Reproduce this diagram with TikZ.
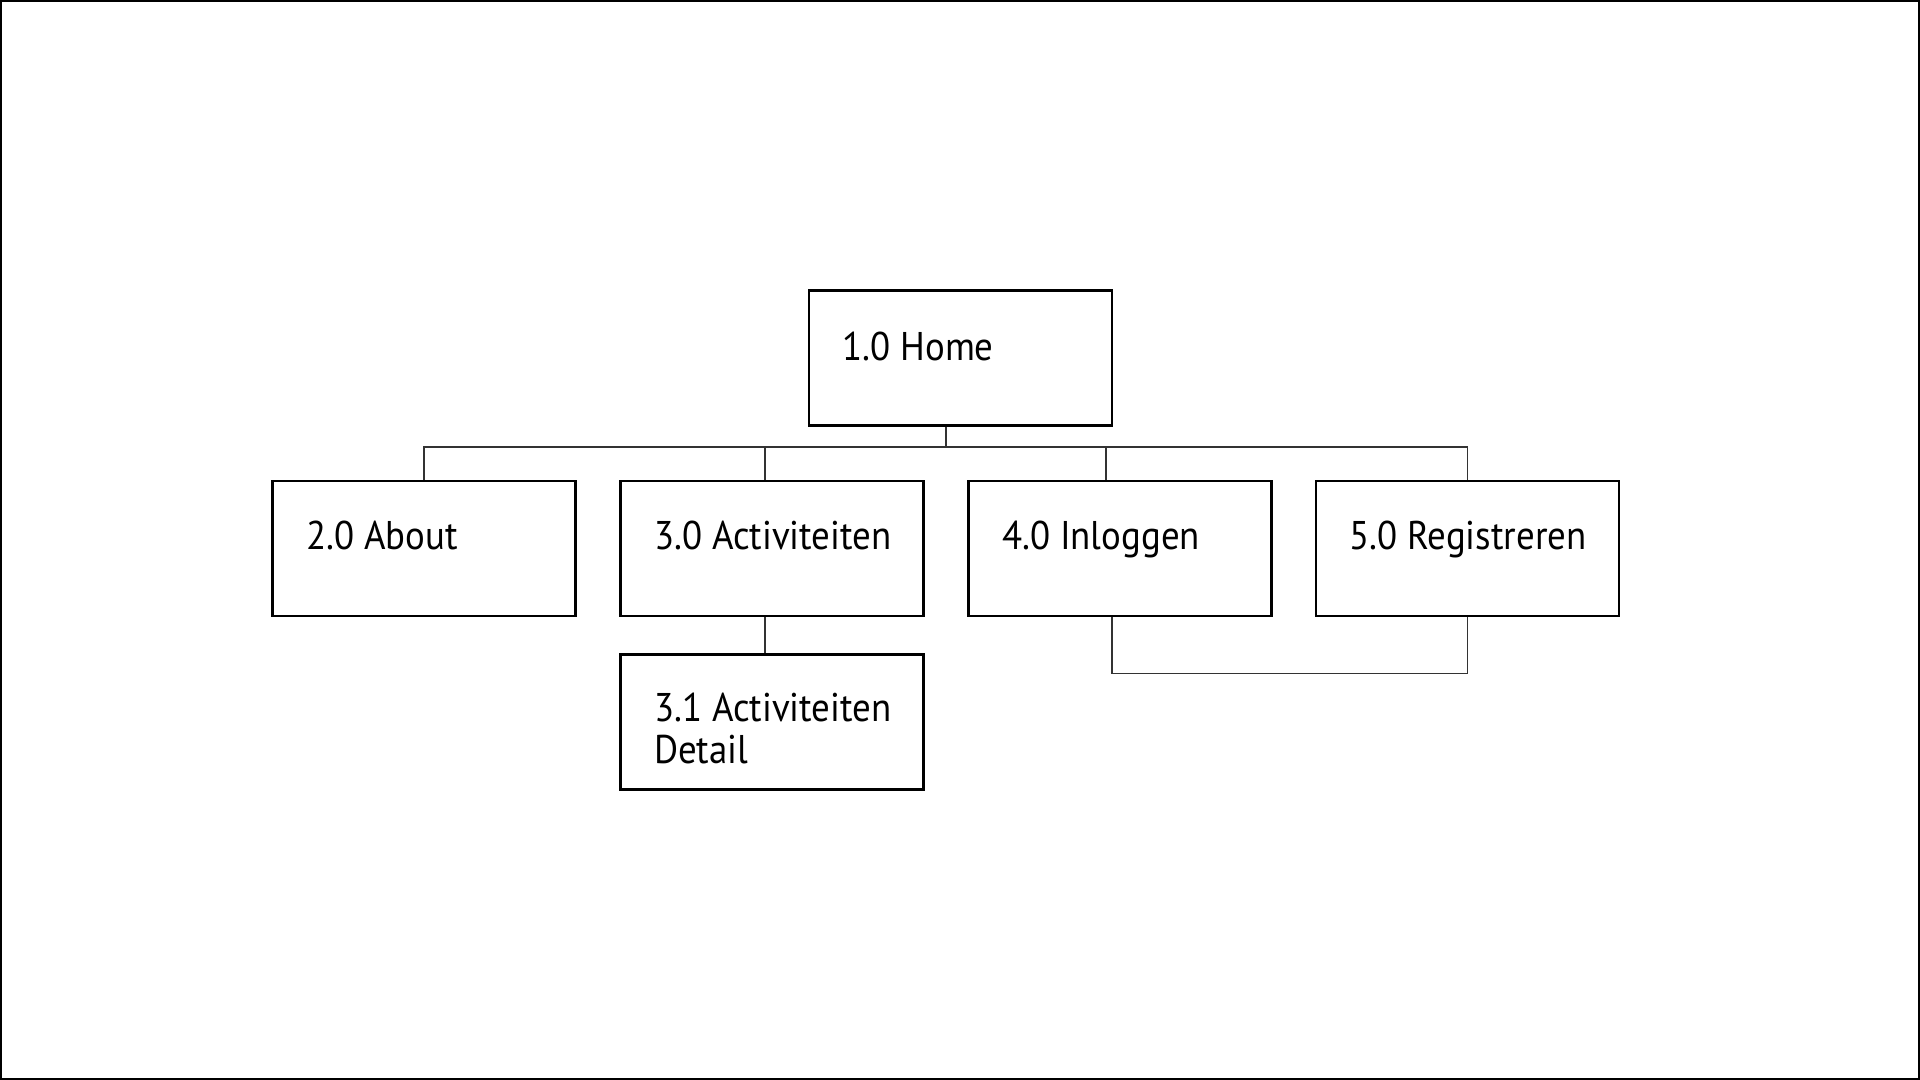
\documentclass[tikz,border=0pt]{standalone}
\usepackage{fontspec}
\setmainfont[FakeStretch=0.92]{PT Sans}
\usetikzlibrary{positioning, calc}

\tikzset{
  pagebox/.style={draw, line width=0.62pt, minimum width=3.03cm, minimum height=1.35cm, inner sep=0pt},
  pagetext/.style={anchor=base west, inner sep=0pt, align=left, font=\fontsize{11.4pt}{11.95pt}\selectfont},
  link/.style={line width=0.3pt, draw=black!80}
}

\begin{document}
\begin{tikzpicture}
        \useasboundingbox (0,0) rectangle (19.2,10.8);
        \draw[line width=0.7pt] (0.01,0.01) rectangle (19.19,10.79);

        % Top page
        \node[pagebox] (home) at (9.605,7.22) {};
        \node[pagetext] (home-t) at ($(home.north west)+(0.34,-0.71)$) {1.0 Home};

        % Second level
        \foreach \name/\x/\txt in {about/4.24/2.0 About, activ/7.72/3.0 Activiteiten, inlog/11.20/4.0 Inloggen, regis/14.675/5.0 Registreren} {
            \node[pagebox] (\name) at (\x,5.315) {};
            \node[pagetext] (\name-t) at ($(\name.north west)+(0.34,-0.70)$) {\txt};
        }

        % Third level (base is the last line)
        \node[pagebox] (detail) at (7.72,3.58) {};
        \node[pagetext] (detail-t) at ($(detail.north west)+(0.34,-1.10)$) {3.1 Activiteiten\\Detail};

        % Connectors
        \coordinate (bus) at (4.24,6.33);
        \draw[link] ([xshift=-1.45mm]home.south) -- ([xshift=-1.45mm]home.south |- bus);
        \draw[link] (about.north) -- (about.north |- bus) -- (regis.north |- bus) -- (regis.north);
        \draw[link] ([xshift=-0.7mm]activ.north) -- ([xshift=-0.7mm]activ.north |- bus);
        \draw[link] ([xshift=-1.4mm]inlog.north) -- ([xshift=-1.4mm]inlog.north |- bus);
        \draw[link] ([xshift=-0.7mm]activ.south) -- ([xshift=-0.7mm]activ.south |- detail.north);
        \draw[link] ([xshift=-0.8mm]inlog.south) -- ++(0,-0.56) -| (regis.south);

    \end{tikzpicture}
\end{document}
